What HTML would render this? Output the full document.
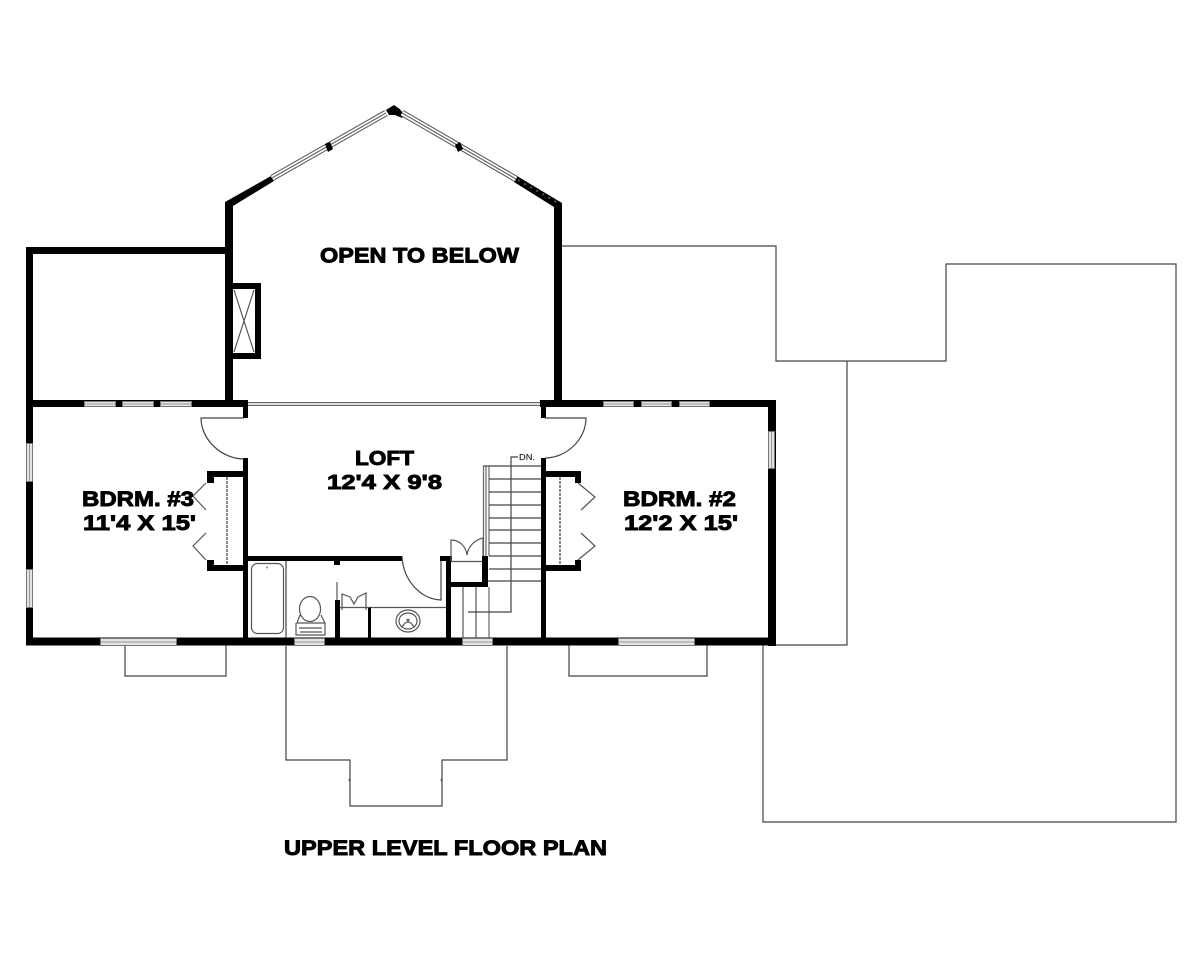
<!DOCTYPE html>
<html><head><meta charset="utf-8"><style>
html,body{margin:0;padding:0;background:#fff;width:1200px;height:960px;overflow:hidden}
svg{display:block;filter:blur(.35px)}
text{font-family:"Liberation Sans",Arial,sans-serif;font-weight:bold;fill:#000;stroke:#000;stroke-width:.9}
.t{fill:none;stroke:#444;stroke-width:1.200}
.m{fill:none;stroke:#555;stroke-width:1.200}
</style></head><body>
<svg width="1200" height="960" viewBox="0 0 1200 960" xmlns="http://www.w3.org/2000/svg">
<rect width="1200" height="960" fill="#fff"/>
<!-- outer thin outlines -->
<path class="t" d="M562 246H776V361H946V264H1176V822H763V645M776 645H847V361M776 361H847"/>
<path class="t" d="M286 646V760H350V806H442V760H507V646"/>
<path class="t" d="M350 778l-1 3M442 778l-1 3"/>
<path class="t" d="M125 645V676H226V645M569 645V676H707V645"/>

<!-- gable walls -->
<g fill="#000">
<polygon points="225,202 271,176 274,181 233,206 233,400 225,400"/>
<polygon points="517,176 562,203 562,400 554,400 554,207 514,182"/>
<polygon points="386,110 394,105 401,110 397,115 389,115"/>
<polygon points="397,109 405,113 402,118 395,115"/>
<!-- upper left room -->
<rect x="26" y="247" width="201" height="7"/>
<rect x="26" y="247" width="7" height="398"/>
<!-- skylight -->
<path fill-rule="evenodd" d="M232 283H261V359H232ZM233 289V353H255V289Z"/>
<!-- main walls -->
<rect x="26" y="400" width="222" height="7"/>
<rect x="540" y="400" width="236" height="7"/>
<rect x="768" y="400" width="8" height="246"/>
<rect x="26" y="637.500" width="750" height="8"/>
<rect x="243" y="400" width="5" height="18"/>
<rect x="541" y="400" width="5" height="18"/>
<rect x="243" y="458" width="5" height="180"/>
<rect x="541" y="458" width="5" height="180"/>
<!-- left closet -->
<rect x="207" y="471" width="37" height="6"/>
<rect x="207" y="471" width="7" height="12"/>
<rect x="207" y="565" width="37" height="6"/>
<rect x="207" y="560" width="7" height="11"/>
<!-- right closet -->
<rect x="545" y="471" width="36" height="6"/>
<rect x="575" y="471" width="6" height="12"/>
<rect x="545" y="565" width="36" height="6"/>
<rect x="575" y="560" width="6" height="11"/>
<!-- bath walls -->
<rect x="247" y="556" width="155" height="5"/>
<rect x="440" y="556" width="12" height="5"/>
<rect x="446" y="556" width="5" height="82"/>
<rect x="449" y="582" width="39" height="5"/>
<rect x="482" y="556" width="6" height="31"/>
<rect x="334" y="561" width="6" height="4"/>
<rect x="335" y="600" width="5" height="38"/>
<rect x="368" y="607" width="3" height="31"/>
</g>

<!-- gable windows -->
<g stroke-linecap="butt" fill="none">
<line x1="272" y1="178" x2="386" y2="113" stroke="#555" stroke-width="6.500"/>
<line x1="272" y1="178" x2="386" y2="113" stroke="#fff" stroke-width="4.500"/>
<line x1="272" y1="178" x2="386" y2="113" stroke="#666" stroke-width="1.200"/>
<line x1="402" y1="113" x2="516" y2="179" stroke="#555" stroke-width="6.500"/>
<line x1="402" y1="113" x2="516" y2="179" stroke="#fff" stroke-width="4.500"/>
<line x1="402" y1="113" x2="516" y2="179" stroke="#666" stroke-width="1.200"/>
</g>
<g fill="#000">
<polygon points="325,144 330,142 333,149 328,152"/>
<polygon points="455,145 460,142 463,149 458,152"/>
</g>
<line x1="518" y1="180" x2="560" y2="204" stroke="#555" stroke-width="2" stroke-dasharray="2 5"/>

<!-- windows -->
<g fill="#e4e4e4" stroke="#777" stroke-width="1">
<rect x="84.500" y="401.500" width="31" height="5"/>
<rect x="122.500" y="401.500" width="31" height="5"/>
<rect x="160.500" y="401.500" width="31" height="5"/>
<rect x="603.500" y="401.500" width="30" height="5"/>
<rect x="641.500" y="401.500" width="30" height="5"/>
<rect x="679.500" y="401.500" width="30" height="5"/>
<rect x="100.500" y="638.500" width="76" height="7"/>
<rect x="618.500" y="638.500" width="76" height="7"/>
<rect x="294.500" y="638.500" width="30" height="7"/>
<rect x="462.500" y="638.500" width="30" height="7"/>
<rect x="26.500" y="443.500" width="6" height="38"/>
<rect x="26.500" y="569.500" width="6" height="38"/>
<rect x="768.500" y="431.500" width="6" height="37"/>
</g>
<path d="M85 404H115M123 404H153M161 404H191M604 404H633M642 404H671M680 404H709M101 642H176M619 642H694M295 642H324M463 642H492M29.500 444V481M29.500 570V607M771.500 432V468" stroke="#999" stroke-width="1" fill="none"/>
<path d="M248 402.500H540M248 405.500H540" stroke="#666" stroke-width="1" fill="none"/>
<path d="M248 404H540" stroke="#bbb" stroke-width="1" fill="none"/>

<!-- skylight X -->
<path class="m" d="M234 290L254 352M254 290L234 352"/>

<!-- door swings -->
<path class="t" d="M244 418H201C201 440 222 459 244 459"/>
<path class="t" d="M545 418H586C586 440 566 458 545 458"/>
<path class="t" d="M402 556C403 580 420 599 441 600V561"/>

<!-- closet doors and rods -->
<path class="m" d="M206 483L193 496L206 510M206 533L193 546L206 560"/>
<path class="m" d="M578 483L595 497L581 510M581 533L595 546L578 560"/>
<path d="M227 477V565" stroke="#888" stroke-width="2" stroke-dasharray="3 1" fill="none"/>
<path d="M560 477V565" stroke="#888" stroke-width="2" stroke-dasharray="3 1" fill="none"/>

<!-- stairs -->
<path d="M483.500 466V556M486 466V556M489 466V556M489 587V638" stroke="#666" stroke-width="1.200" fill="none"/>
<path class="t" d="M483 466H541M489 479H541M489 492H541M489 505H541M489 518H541M489 530H541M489 543H541M489 556H541M489 569H541M488 581H541"/>
<path class="m" d="M463 587V638M476 587V638"/>
<path class="t" d="M518 457H511V612H468"/>
<text x="519" y="460" font-size="8" textLength="16" lengthAdjust="spacingAndGlyphs" style="font-weight:normal;stroke-width:.2;fill:#333;stroke:#333">DN.</text>

<!-- small closet door -->
<path class="m" d="M451 561V540C460 540 466 547 467 555C468 547 474 540 483 538V556M451 561.500H482"/>

<!-- bath fixtures -->
<rect class="m" x="251.500" y="563.500" width="32" height="70" rx="6"/>
<circle cx="267" cy="567.500" r="1" fill="#888"/>
<path class="t" d="M286 561V638"/>
<path class="m" d="M337 582V600"/>
<path class="m" d="M342 610V594L350 597L354 604L358 597L366 593V610M340 607.500H370M371 607.500H446"/>
<ellipse class="m" cx="310" cy="609" rx="10.500" ry="12.500"/>
<path class="m" d="M300 615L297 623H325L321 615M296 623V635H325V623M299 628H322M300 632H322"/>
<ellipse class="m" cx="408" cy="621" rx="12" ry="11"/>
<ellipse class="m" cx="408" cy="621" rx="9" ry="8"/>
<path class="m" d="M402 627Q408 617 414 627"/>
<circle cx="408" cy="620" r="1.500" fill="#666"/>

<!-- labels -->
<text x="320" y="262.500" font-size="21" textLength="199" lengthAdjust="spacingAndGlyphs">OPEN TO BELOW</text>
<text x="355" y="465" font-size="20.500" textLength="59" lengthAdjust="spacingAndGlyphs">LOFT</text>
<text x="327" y="489" font-size="20.500" textLength="115" lengthAdjust="spacingAndGlyphs">12'4 X 9'8</text>
<text x="82" y="506" font-size="21" textLength="112" lengthAdjust="spacingAndGlyphs">BDRM. #3</text>
<text x="83" y="530" font-size="21" textLength="113" lengthAdjust="spacingAndGlyphs">11'4 X 15'</text>
<text x="623" y="506" font-size="21" textLength="113" lengthAdjust="spacingAndGlyphs">BDRM. #2</text>
<text x="624" y="530" font-size="21" textLength="114" lengthAdjust="spacingAndGlyphs">12'2 X 15'</text>
<text x="284" y="855" font-size="21" textLength="323" lengthAdjust="spacingAndGlyphs">UPPER LEVEL FLOOR PLAN</text>
</svg>
</body></html>
